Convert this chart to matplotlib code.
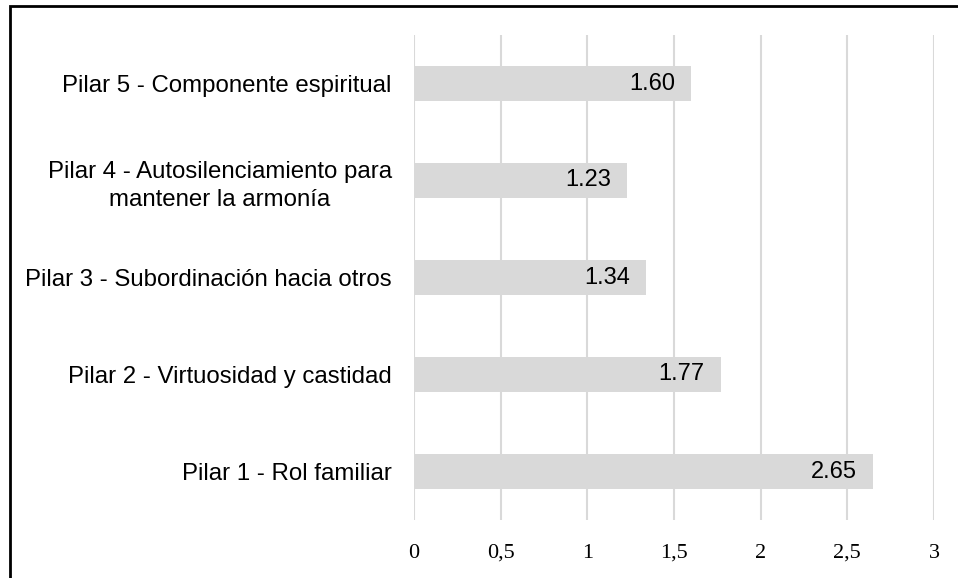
import matplotlib
matplotlib.use("Agg")
import matplotlib.pyplot as plt
from matplotlib.patches import Rectangle

categories = [
    "Pilar 1 - Rol familiar",
    "Pilar 2 - Virtuosidad y castidad",
    "Pilar 3 - Subordinación hacia otros",
    "Pilar 4 - Autosilenciamiento para\nmantener la armonía",
    "Pilar 5 - Componente espiritual",
]
values = [2.65, 1.77, 1.34, 1.23, 1.60]
value_labels = ["2.65", "1.77", "1.34", "1.23", "1.60"]
xticks = [0, 0.5, 1, 1.5, 2, 2.5, 3]
xtick_labels = ["0", "0,5", "1", "1,5", "2", "2,5", "3"]

W, H = 958, 578
fig = plt.figure(figsize=(W / 100, H / 100), dpi=100)
ax = fig.add_axes([414 / W, (H - 520) / H, (934 - 414) / W, (520 - 35) / H])

pos = list(range(len(categories)))
ax.barh(pos, values, height=0.36, color="#d9d9d9", zorder=2)
ax.set_xlim(0, 3)
ax.set_ylim(-0.5, len(categories) - 0.5)

ax.set_xticks(xticks)
ax.set_xticklabels(xtick_labels, fontfamily="Liberation Serif", fontsize=16)
ax.set_yticks(pos)
ax.set_yticklabels(categories, fontfamily="Liberation Sans", fontsize=17.3)
ax.tick_params(axis="both", length=0)
ax.tick_params(axis="x", pad=17)
ax.tick_params(axis="y", pad=16)
for lbl in ax.get_yticklabels():
    lbl.set_horizontalalignment("right")
    lbl.set_multialignment("center")
    lbl.set_linespacing(1.35)

ax.grid(axis="x", color="#d9d9d9", linewidth=1.5, zorder=0)
for s in ax.spines.values():
    s.set_visible(False)

for p, v, t in zip(pos, values, value_labels):
    ax.annotate(t, xy=(v, p), xytext=(-11.5, 0), textcoords="offset points",
                ha="right", va="center", fontfamily="Liberation Sans",
                fontsize=17, color="#000000", zorder=3)

fig.patches.append(Rectangle((9.5 / W, -0.05), 1.0, 1.05 - 6 / H,
                             transform=fig.transFigure, fill=False,
                             edgecolor="black", linewidth=2.0))

fig.savefig("out.png", dpi=100)
